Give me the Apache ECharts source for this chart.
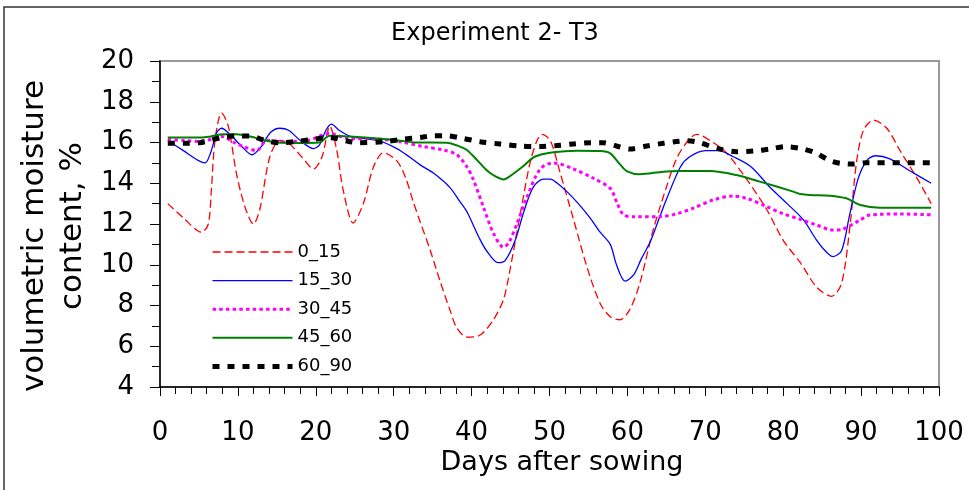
<!DOCTYPE html>
<html>
<head>
<meta charset="utf-8">
<script src="https://cdn.jsdelivr.net/npm/echarts/dist/echarts.min.js"></script>
<style>
html,body{margin:0;padding:0;background:#fff;}
#chart{width:969px;height:490px;}
</style>
</head>
<body>
<div id="chart"></div>
<script>
const titleText = 'Experiment 2- T3';
const xAxisTitle = 'Days after sowing';
const yAxisTitle = ['volumetric moisture', 'content, %'];
const seriesNames = ['0_15', '15_30', '30_45', '45_60', '60_90'];
const xMin = 0, xMax = 100, xStep = 10;
const yMin = 4, yMax = 20, yStep = 2;

// [day, volumetric moisture %]
const d0_15 = [[1,13.0],[3,12.3],[5.35,11.6],[6.2,12.0],[6.6,13.7],[7.06,16.1],[7.9,17.45],[8.77,16.8],[9.8,14.5],[10.9,12.85],[12.0,12.0],[12.8,12.7],[14.1,15.3],[15.4,16.1],[16.7,15.9],[18.4,15.2],[19.7,14.7],[20.8,15.3],[21.8,16.8],[22.7,15.6],[23.5,13.7],[24.8,12.05],[26.1,13.0],[27.4,14.8],[28.7,15.5],[30.4,15.1],[31.5,14.3],[32.5,13.1],[33.4,12.1],[34.7,10.7],[35.9,9.25],[37.2,7.8],[38.1,6.9],[39.4,6.45],[41.1,6.55],[42.8,7.3],[44.1,8.3],[44.9,9.7],[46.2,12.4],[47.5,15.0],[48.4,16.1],[49.0,16.4],[50.1,16.1],[51.3,14.6],[53.1,12.2],[54.8,9.9],[56.5,8.1],[57.8,7.45],[59.05,7.3],[60.3,7.8],[61.6,9.1],[63.3,11.7],[65.0,13.8],[66.3,15.2],[67.8,16.1],[68.9,16.4],[71.0,16.0],[72.7,15.5],[75.3,14.2],[77.9,12.7],[80.0,11.2],[82.2,10.1],[84.3,8.9],[86.2,8.45],[87.5,9.1],[88.6,12.0],[89.4,15.0],[90.3,16.6],[91.6,17.1],[93.3,16.7],[95.0,15.6],[97.1,14.3],[99.0,13.0]];
const d15_30 = [[1,16.1],[3,15.6],[5,15.1],[5.8,15.0],[6.5,15.5],[7.3,16.5],[7.9,16.7],[9,16.4],[10.5,15.8],[11.8,15.4],[13,15.8],[14.2,16.5],[15.4,16.7],[16.5,16.6],[18,16.1],[19.7,15.7],[20.5,15.9],[21.3,16.6],[22,16.9],[23,16.6],[24.4,16.3],[26,16.2],[28,16.1],[30.4,15.7],[32,15.3],[33.4,14.9],[35.1,14.5],[37.2,13.8],[38.5,13.1],[39.4,12.6],[41,11.3],[41.9,10.7],[43.4,10.1],[44.3,10.2],[45.6,11.2],[46.7,12.6],[47.9,13.8],[49.2,14.2],[50.1,14.2],[51,14.0],[52.2,13.6],[53.7,13.0],[55.2,12.3],[56.5,11.6],[57.8,11.0],[58.6,10.0],[59.7,9.2],[60.8,9.5],[61.8,10.3],[62.9,11.1],[64.2,12.4],[65,13.2],[66.8,14.8],[68,15.3],[70,15.6],[71.7,15.6],[73.6,15.3],[75.9,14.8],[78.3,13.8],[80.5,13.0],[82.6,12.2],[84.3,11.2],[85.6,10.6],[86.4,10.4],[87.5,10.7],[88.5,12.4],[89.6,14.2],[90.7,15.1],[91.8,15.35],[93.7,15.2],[96.3,14.6],[99,14.0]];
const d30_45 = [[1,16.15],[3,16.1],[5,16.05],[6.5,16.15],[7.9,16.3],[9.5,16.0],[10.7,15.8],[12.4,15.6],[13.7,16.1],[16,16.05],[19,16.1],[21.8,16.45],[24,16.2],[28,16.17],[30.8,16.04],[33.8,15.8],[36.4,15.63],[38.1,15.4],[39.4,14.8],[40.2,14.2],[41.5,12.85],[42.8,11.55],[44.1,10.86],[44.8,11.1],[45.8,12.0],[47.1,13.3],[48.8,14.7],[50.5,15.0],[53.1,14.7],[55.6,14.25],[57.8,13.75],[58.7,13.0],[59.5,12.45],[60.8,12.36],[64.2,12.36],[66.3,12.5],[68.4,12.77],[71,13.18],[73.6,13.37],[75.3,13.26],[77.9,12.85],[80,12.5],[82.2,12.23],[84.3,11.95],[86.4,11.7],[87.5,11.73],[89.9,12.2],[91.1,12.44],[95,12.49],[99,12.45]];
const d45_60 = [[1,16.24],[5.4,16.24],[6.5,16.3],[8.1,16.4],[9.8,16.4],[11.6,16.29],[13.5,16.1],[15,16.0],[18,15.98],[20.4,16.0],[21.8,16.33],[24.4,16.29],[28.7,16.17],[30.8,16.09],[32.9,16.0],[36.8,15.99],[38.5,15.8],[39.4,15.63],[40.8,15.1],[41.9,14.65],[43,14.35],[44.1,14.19],[44.7,14.29],[46.5,14.8],[48.1,15.3],[50.5,15.52],[53.5,15.6],[56.5,15.58],[57.8,15.47],[59,14.95],[59.9,14.6],[61.6,14.44],[64.6,14.57],[66.8,14.6],[70.6,14.6],[74,14.4],[77,14.08],[81.3,13.59],[82.2,13.47],[83.4,13.42],[86,13.39],[88.1,13.26],[89.9,12.93],[92.4,12.8],[99,12.8]];
const d60_90 = [[1,15.96],[3,15.96],[5.1,15.99],[6.4,16.1],[7.9,16.24],[9.8,16.32],[11.6,16.32],[13.3,16.12],[15.4,15.98],[17.5,16.05],[19.7,16.16],[21.8,16.24],[24.4,16.04],[25.3,15.99],[28.7,16.04],[31.2,16.16],[33.4,16.25],[35.1,16.33],[36.8,16.33],[38.9,16.2],[41.1,16.04],[43.6,15.93],[46.2,15.83],[48.8,15.8],[50.9,15.85],[53.1,15.93],[55.2,15.99],[56.9,15.99],[58.6,15.83],[60.3,15.68],[62.5,15.83],[64.6,15.96],[66.3,16.05],[67.6,16.09],[69.3,15.99],[71.5,15.71],[74,15.55],[76.2,15.58],[78.3,15.68],[80.2,15.8],[82.2,15.71],[84.1,15.5],[86,15.11],[87.3,14.98],[89,14.94],[90.7,15.01],[99,15.01]];

const seriesData = [d0_15, d15_30, d30_45, d45_60, d60_90];
const FONT = 'DejaVu Sans';

const styles = [
  {color:'#FF0000', width:1.3, type:[8,4]},
  {color:'#0000FF', width:1.3, type:'solid'},
  {color:'#FF00FF', width:3, type:[3.5,3.2]},
  {color:'#008000', width:2, type:'solid'},
  {color:'#000000', width:5, type:[7,8]}
];

const chart = echarts.init(document.getElementById('chart'), null, {renderer:'canvas'});
chart.setOption({
  backgroundColor:'#ffffff',
  animation:false,
  grid:{left:160, right:30, top:61, bottom:103, show:true, borderColor:'#999999', borderWidth:2, containLabel:false, outerBoundsMode:'none'},
  xAxis:{
    type:'value', min:xMin, max:xMax, interval:xStep,
    axisLine:{show:true, onZero:false, lineStyle:{color:'#000', width:1.5}},
    axisTick:{show:true, inside:false, length:9, lineStyle:{color:'#000', width:1}},
    minorTick:{show:true, splitNumber:5, length:7, lineStyle:{color:'#000', width:1}},
    splitLine:{show:false}, minorSplitLine:{show:false},
    axisLabel:{fontFamily:FONT, fontSize:26, color:'#000', margin:33}
  },
  yAxis:{
    type:'value', min:yMin, max:yMax, interval:yStep,
    axisLine:{show:true, onZero:false, lineStyle:{color:'#000', width:1.5}},
    axisTick:{show:true, inside:false, length:10, lineStyle:{color:'#000', width:1}},
    minorTick:{show:true, splitNumber:2, length:8, lineStyle:{color:'#000', width:1}},
    splitLine:{show:false}, minorSplitLine:{show:false},
    axisLabel:{fontFamily:FONT, fontSize:26, color:'#000', margin:26}
  },
  legend:{
    orient:'vertical', left:210, top:242, padding:0,
    itemWidth:80, itemHeight:14, itemGap:8.6,
    textStyle:{fontFamily:FONT, fontSize:18, color:'#000', lineHeight:20},
    itemStyle:{opacity:0},
    data: seriesNames.map((n,i)=>({
      name:n,
      itemStyle:{opacity:0},
      lineStyle:{color:styles[i].color, width:styles[i].width, type:styles[i].type, cap:'butt', opacity:1}
    }))
  },
  graphic:[
    {type:'rect', silent:true, z:-1, shape:{x:4, y:7, width:2000, height:2000}, style:{fill:'none', stroke:'#333', lineWidth:1.5}},
    {type:'text', x:495, y:34, style:{text:titleText, font:'24px "DejaVu Sans"', fill:'#000', textAlign:'center', textVerticalAlign:'middle'}},
    {type:'text', x:562, y:463, style:{text:xAxisTitle, font:'27px "DejaVu Sans"', fill:'#000', textAlign:'center', textVerticalAlign:'middle'}},
    {type:'text', x:35, y:236, rotation:Math.PI/2, style:{text:yAxisTitle[0], font:'31px "DejaVu Sans"', fill:'#000', textAlign:'center', textVerticalAlign:'middle'}},
    {type:'text', x:73, y:226, rotation:Math.PI/2, style:{text:yAxisTitle[1], font:'31px "DejaVu Sans"', fill:'#000', textAlign:'center', textVerticalAlign:'middle'}}
  ],
  series: seriesNames.map((n,i)=>({
    name:n, type:'line', data:seriesData[i], smooth:0.3,
    showSymbol:false, symbol:'none', legendIcon:'none', color:styles[i].color,
    lineStyle:{color:styles[i].color, width:styles[i].width, type:styles[i].type, cap:'butt'}
  }))
});
</script>
</body>
</html>
